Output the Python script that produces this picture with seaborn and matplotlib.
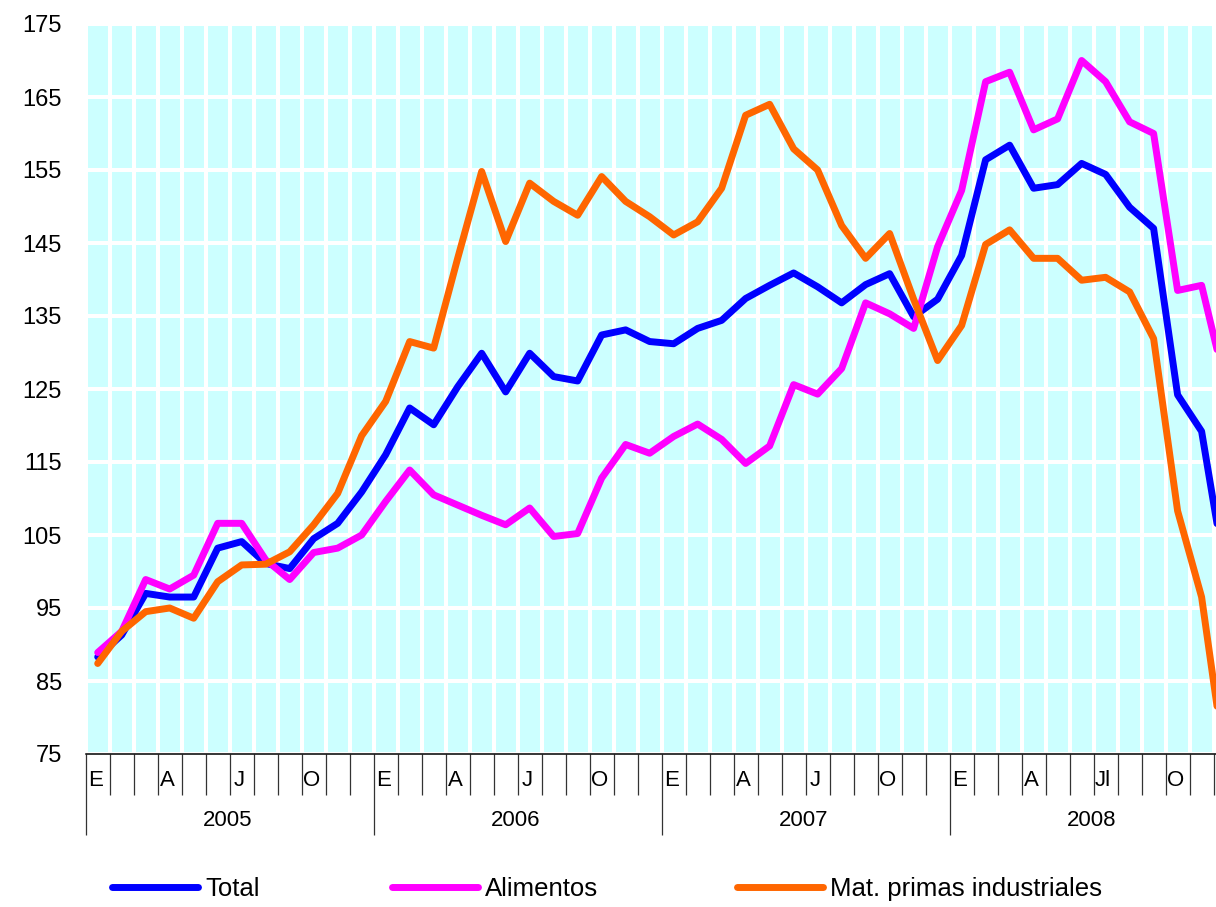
import numpy as np
import pandas as pd
import matplotlib.pyplot as plt
import seaborn as sns
from matplotlib.lines import Line2D

# Indices mensuales, enero 2005 - diciembre 2008
years = ["2005", "2006", "2007", "2008"]
quarter_labels = [
    ["E", "A", "J", "O"],
    ["E", "A", "J", "O"],
    ["E", "A", "J", "O"],
    ["E", "A", "Jl", "O"],
]

total = [
    88.3, 91.3, 97.0, 96.5, 96.5, 103.2, 104.1, 101.1, 100.4, 104.5, 106.6, 110.9,
    116.0, 122.4, 120.1, 125.3, 129.9, 124.6, 129.9, 126.7, 126.1, 132.4, 133.1, 131.5,
    131.2, 133.3, 134.4, 137.4, 139.2, 140.9, 139.0, 136.8, 139.3, 140.8, 134.9, 137.3,
    143.3, 156.4, 158.4, 152.5, 153.0, 155.9, 154.4, 149.9, 147.0, 124.2, 119.2, 99.5,
]
alimentos = [
    88.9, 91.8, 98.9, 97.6, 99.5, 106.6, 106.6, 101.6, 98.9, 102.6, 103.2, 105.0,
    109.6, 113.9, 110.5, 109.1, 107.7, 106.4, 108.7, 104.8, 105.2, 112.8, 117.4, 116.2,
    118.5, 120.2, 118.1, 114.8, 117.2, 125.6, 124.3, 127.8, 136.8, 135.3, 133.3, 144.5,
    152.2, 167.1, 168.4, 160.5, 162.0, 170.0, 167.1, 161.6, 160.0, 138.5, 139.2, 125.5,
]
materias = [
    87.4, 91.8, 94.5, 95.0, 93.6, 98.6, 100.9, 101.0, 102.7, 106.4, 110.7, 118.6,
    123.3, 131.5, 130.6, 142.9, 154.8, 145.2, 153.2, 150.7, 148.8, 154.1, 150.7, 148.6,
    146.1, 147.9, 152.5, 162.5, 164.0, 157.9, 155.0, 147.4, 142.9, 146.3, 137.3, 128.9,
    133.7, 144.8, 146.8, 142.9, 142.9, 139.9, 140.3, 138.3, 131.9, 108.3, 96.5, 73.2,
]

series_names = ["Total", "Alimentos", "Mat. primas industriales"]
colors = ["#0000FF", "#FF00FF", "#FF6600"]

n_months = len(total)
df = pd.DataFrame({
    "mes": np.tile(np.arange(n_months), 3),
    "valor": total + alimentos + materias,
    "serie": np.repeat(series_names, n_months),
})

sns.set_style("white", {"axes.facecolor": "#CCFFFF"})
plt.rcParams["font.family"] = ["Liberation Sans", "DejaVu Sans"]
plt.rcParams["text.color"] = "black"

fig = plt.figure(figsize=(12.16, 9.07), dpi=100)
ax = fig.add_axes([85.7 / 1216, 153 / 907, 1 - 85.7 / 1216, 730 / 907])

sns.lineplot(data=df, x="mes", y="valor", hue="serie", hue_order=series_names,
             palette=colors, linewidth=5, legend=False, ax=ax,
             solid_joinstyle="round", solid_capstyle="round")

# ejes: lineas blancas por mes y cada 10 puntos
ax.set_yticks(range(75, 176, 10))
ax.set_xticks(np.arange(-0.5, n_months, 12))
ax.set_xticks(np.arange(-0.5, n_months + 0.5, 1), minor=True)
ax.set_xticklabels([])
ax.set_xlim(-0.5, 46.6)
ax.set_ylim(75, 175)
ax.set_xlabel("")
ax.set_ylabel("")
ax.set_axisbelow(True)
ax.grid(which="both", axis="x", color="white", linewidth=2.9)
ax.grid(which="major", axis="y", color="white", linewidth=2.9)

for side in ["top", "right", "left"]:
    ax.spines[side].set_visible(False)
ax.spines["bottom"].set_color("black")
ax.spines["bottom"].set_linewidth(1.1)

ax.tick_params(axis="y", length=0, pad=17, labelsize=17, labelcolor="black")
ax.tick_params(axis="x", which="major", bottom=True, direction="out", length=58,
               width=0.9, color="#333333")
ax.tick_params(axis="x", which="minor", bottom=True, direction="out", length=29.5,
               width=0.9, color="#333333")

trans = ax.get_xaxis_transform()
for k, year in enumerate(years):
    for q, lab in enumerate(quarter_labels[k]):
        ax.text(12 * k + 3 * q - 0.1, -0.036, lab, transform=trans,
                ha="center", va="center", fontsize=16, clip_on=False)
    ax.text(12 * k + 5.4, -0.091, year, transform=trans,
            ha="center", va="center", fontsize=16, clip_on=False)

# leyenda: una entrada por posicion
legend_x = [112, 392, 737]
for name, c, lx in zip(series_names, colors, legend_x):
    h = Line2D([0], [0], color=c, linewidth=5, solid_capstyle="round")
    fig.legend([h], [name], loc="center left",
               bbox_to_anchor=(lx / 1216, 1 - 889 / 907), frameon=False,
               fontsize=18.5, handlelength=3.35, handletextpad=0.27,
               borderaxespad=0, borderpad=0)

fig.savefig("out.png", dpi=100)
